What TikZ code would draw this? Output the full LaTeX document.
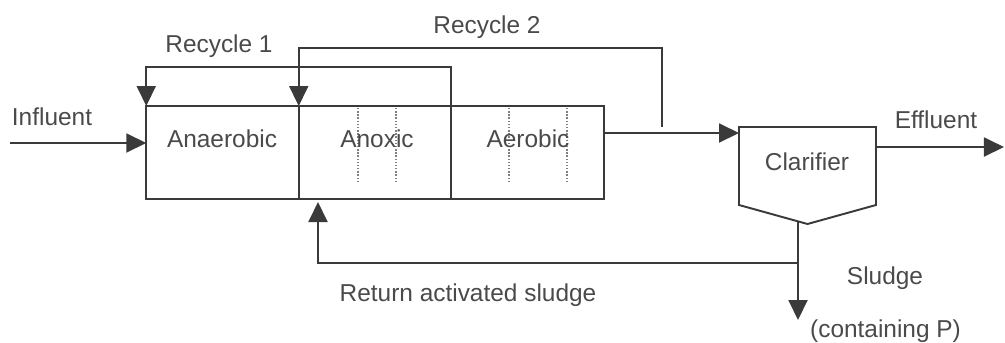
\documentclass[tikz,border=0pt]{standalone}
\usepackage{fontspec}
\setmainfont{Liberation Sans}
\usetikzlibrary{arrows.meta}
\usetikzlibrary{calc}
\usetikzlibrary{positioning}

\definecolor{ink}{HTML}{3A3A3A}
\definecolor{pen}{HTML}{4A4A4A}

\begin{document}
\begin{tikzpicture}[x=0.02cm, y=-0.02cm]
            \tikzstyle{tank cell} = [draw=ink, line width=1.1pt, minimum width=3.05cm, minimum height=1.86cm, inner sep=0pt, outer sep=0pt]
            \tikzstyle{vessel} = [draw=ink, line width=1.1pt]
            \tikzstyle{flow line} = [draw=ink, line width=1.1pt, -{Triangle[length=0.4cm, width=0.38cm]}]
            \tikzstyle{pipe} = [draw=ink, line width=1.1pt]
            \tikzstyle{mixer} = [draw=gray, densely dotted, line width=0.8pt]
            \tikzstyle{tag} = [anchor=base, inner sep=0pt, text=pen, font=\fontsize{13.9}{16}\selectfont]

            \useasboundingbox (0,0) rectangle (1005,342);

            \node[tank cell] (anaerobic) at (222.5,152.5) {};
            \node[tank cell, right=0pt of anaerobic] (anoxic) {};
            \node[tank cell, right=0pt of anoxic] (aerobic) {};
            \foreach \x in {358,396,509,567}
                \draw[mixer] (\x,108) -- (\x,181);

            \node[tag] (anaerobic label) at (222,147) {Anaerobic};
            \node[tag] (anoxic label) at (377,147) {Anoxic};
            \node[tag] (aerobic label) at (528,147) {Aerobic};

            \node[minimum width=2.74cm, minimum height=1.56cm, inner sep=0pt, outer sep=0pt] (clarifier) at (807.5,166) {};
            \coordinate (cone) at ($(clarifier.south)+(0,19)$);
            \draw[vessel] (clarifier.north west) -- (clarifier.north east) -- (clarifier.south east) -- (cone) -- (clarifier.south west) -- cycle;
            \node[tag] (clarifier label) at (807,170) {Clarifier};

            % feed, recycles and outlet
            \coordinate (feed) at (10,143);
            \draw[flow line] (feed) -- (feed -| anaerobic.west);
            \node[tag] (influent) at (52,125) {Influent};

            \draw[flow line] (anoxic.north east) -- ++(0,-39) -| (anaerobic.north west);
            \node[tag] (recycle 1) at (219,52) {Recycle 1};

            \coordinate (tap) at (662,127);
            \draw[flow line] (tap) -- ++(0,-79) -| (anoxic.north west);
            \node[tag] (recycle 2) at (487,33) {Recycle 2};

            \draw[flow line] ($(aerobic.north east)+(0,27)$) -- ($(clarifier.north west)+(0,6)$);

            \draw[flow line] ($(clarifier.north east)+(0,20)$) -- ++(128,0);
            \node[tag] (effluent) at (936,128) {Effluent};

            % sludge draw-off and return
            \coordinate (sludge out) at (798,221.5);
            \coordinate (split) at (798,263);
            \coordinate (return in) at (318,202);
            \draw[flow line] (sludge out) -- ++(0,98.5);
            \draw[flow line] (split) -| (return in);
            \node[tag] (return label) at (468,301) {Return activated sludge};
            \node[tag] (sludge) at (885,284) {Sludge};
            \node[tag] (containing) at (885.5,337) {(containing P)};

        \end{tikzpicture}
\end{document}
